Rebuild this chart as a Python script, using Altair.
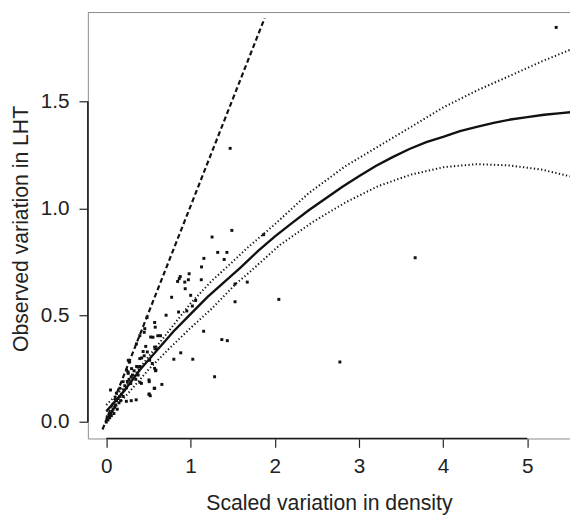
import altair as alt
import pandas as pd

# ---- data ----
pts_x = [5.343, 1.471, 3.668, 2.774, 2.049, 1.286, 1.868,
         1.256, 1.491, 1.323, 1.432, 1.400, 1.159, 1.131, 0.878, 0.866, 0.847, 0.984,
         0.975, 0.932, 1.128, 0.937, 1.529, 1.674, 0.776, 1.002, 1.061, 1.022, 0.956,
         0.858, 1.529,
         1.156, 1.372, 1.437, 1.027, 0.802, 0.884, 0.710, 0.574, 0.581, 0.484, 0.457,
         0.450, 0.527, 0.554, 0.612, 0.644, 0.398, 0.358, 0.468, 0.437, 0.487, 0.574,
         0.593, 0.398, 0.515, 0.546, 0.574, 0.261, 0.241,
         0.660, 0.507, 0.585, 0.507, 0.522, 0.417, 0.574, 0.378, 0.260, 0.300,
         0.277, 0.257, 0.375, 0.589, 0.510, 0.400, 0.296, 0.199, 0.050, 0.160, 0.120,
         0.569, 0.355, 0.296, 0.510, 0.238,
         0.000, 0.010, 0.020, 0.030, 0.040, 0.050, 0.060, 0.070, 0.080, 0.090, 0.100,
         0.110, 0.120, 0.130, 0.140, 0.150, 0.160, 0.170, 0.180, 0.200, 0.210, 0.220,
         0.240, 0.250, 0.270, 0.290, 0.310, 0.330, 0.350, 0.360, 0.400, 0.420, 0.450]
pts_y = [1.847, 1.281, 0.769, 0.281, 0.574, 0.212, 0.877,
         0.866, 0.897, 0.794, 0.794, 0.761, 0.766, 0.726, 0.681, 0.671, 0.658, 0.694,
         0.666, 0.655, 0.666, 0.624, 0.646, 0.655, 0.584, 0.593, 0.569, 0.543, 0.520,
         0.515, 0.563,
         0.425, 0.386, 0.381, 0.294, 0.294, 0.324, 0.500, 0.466, 0.444, 0.489, 0.437,
         0.420, 0.398, 0.397, 0.404, 0.404, 0.404, 0.366, 0.354, 0.330, 0.328, 0.351,
         0.343, 0.297, 0.289, 0.274, 0.251, 0.289, 0.243,
         0.176, 0.197, 0.240, 0.130, 0.123, 0.181, 0.158, 0.220, 0.228, 0.250,
         0.281, 0.235, 0.258, 0.243, 0.189, 0.186, 0.212, 0.189, 0.150, 0.158, 0.135,
         0.158, 0.104, 0.100, 0.131, 0.097,
         0.000, 0.020, 0.010, 0.030, 0.020, 0.040, 0.030, 0.050, 0.060, 0.040, 0.070,
         0.080, 0.100, 0.060, 0.110, 0.090, 0.120, 0.100, 0.130, 0.120, 0.150, 0.170,
         0.160, 0.190, 0.200, 0.180, 0.220, 0.240, 0.200, 0.260, 0.260, 0.300, 0.310]

fit_x = [0.0, 0.2, 0.4, 0.6, 0.8, 1.0, 1.2, 1.4, 1.6, 1.8, 2.0, 2.2, 2.4, 2.6, 2.8,
         3.0, 3.2, 3.4, 3.6, 3.8, 4.0, 4.2, 4.4, 4.6, 4.8, 5.0, 5.2, 5.4, 5.507]
fit_y = [0.050, 0.140, 0.245, 0.335, 0.425, 0.505, 0.585, 0.655, 0.725, 0.800, 0.868,
         0.930, 0.990, 1.045, 1.100, 1.150, 1.198, 1.240, 1.278, 1.310, 1.335, 1.362,
         1.381, 1.400, 1.416, 1.427, 1.438, 1.446, 1.450]

upper_x = [0.0, 0.25, 0.5, 0.75, 1.0, 1.25, 1.5, 1.666, 2.0, 2.4, 2.837, 3.227, 3.618,
           4.008, 4.398, 4.789, 5.179, 5.507]
upper_y = [0.080, 0.180, 0.305, 0.430, 0.555, 0.660, 0.750, 0.812, 0.925, 1.070, 1.197,
           1.289, 1.381, 1.474, 1.551, 1.620, 1.689, 1.742]

lower_x = [0.0, 0.25, 0.5, 0.75, 1.0, 1.25, 1.549, 1.666, 2.056, 2.447, 2.837, 3.227,
           3.618, 4.008, 4.398, 4.789, 5.179, 5.507]
lower_y = [0.025, 0.130, 0.245, 0.345, 0.440, 0.530, 0.651, 0.689, 0.827, 0.935, 1.027,
           1.104, 1.158, 1.193, 1.207, 1.201, 1.181, 1.150]

one_x = [-0.045, 1.880]
one_y = [-0.035, 1.890]

x_ticks = [0, 1, 2, 3, 4, 5]
y_ticks = [0.0, 0.5, 1.0, 1.5]
X_DOM = [-0.219, 5.507]
Y_DOM = [-0.077, 1.9165]

FONT = "Liberation Sans"

pts = pd.DataFrame({"x": pts_x, "y": pts_y})
fit = pd.DataFrame({"x": fit_x, "y": fit_y})
upp = pd.DataFrame({"x": upper_x, "y": upper_y})
low = pd.DataFrame({"x": lower_x, "y": lower_y})
one = pd.DataFrame({"x": one_x, "y": one_y})

xs = alt.Scale(domain=X_DOM, nice=False, zero=False)
ys = alt.Scale(domain=Y_DOM, nice=False, zero=False)

xax = alt.Axis(values=x_ticks, format="d", title="Scaled variation in density",
               grid=False, domainColor="#8a8a8a", domainWidth=1,
               tickColor="#222", tickSize=9, tickWidth=1.2,
               labelFont=FONT, labelFontSize=21, labelColor="#222", labelPadding=8,
               titleFont=FONT, titleFontSize=21.5, titleColor="#222",
               titleFontWeight="normal", titleY=72, titleBaseline="alphabetic")
yax = alt.Axis(values=y_ticks, format=".1f", title="Observed variation in LHT",
               grid=False, domainColor="#8a8a8a", domainWidth=1,
               tickColor="#222", tickSize=9, tickWidth=1.2,
               labelFont=FONT, labelFontSize=21, labelColor="#222", labelPadding=10,
               titleFont=FONT, titleFontSize=21.5, titleColor="#222",
               titleFontWeight="normal", titleX=-61, titleY=219,
               titleBaseline="alphabetic")

base_x = alt.X("x:Q", scale=xs, axis=xax)
base_y = alt.Y("y:Q", scale=ys, axis=yax)

points = alt.Chart(pts).mark_square(size=9, color="#111", opacity=1).encode(x=base_x, y=base_y)
fit_line = alt.Chart(fit).mark_line(color="#111", strokeWidth=2.4).encode(
    x=alt.X("x:Q", scale=xs), y=alt.Y("y:Q", scale=ys))
upp_line = alt.Chart(upp).mark_line(color="#111", strokeWidth=2, strokeDash=[1.3, 2.4]).encode(
    x=alt.X("x:Q", scale=xs), y=alt.Y("y:Q", scale=ys))
low_line = alt.Chart(low).mark_line(color="#111", strokeWidth=2, strokeDash=[1.3, 2.4]).encode(
    x=alt.X("x:Q", scale=xs), y=alt.Y("y:Q", scale=ys))
one_line = alt.Chart(one).mark_line(color="#111", strokeWidth=2.2, strokeDash=[5, 3]).encode(
    x=alt.X("x:Q", scale=xs), y=alt.Y("y:Q", scale=ys))

# frame: top edge (grey) and the dark axis segments spanning first to last tick
top_df = pd.DataFrame({"x": [X_DOM[0]], "x2": [X_DOM[1]], "y": [Y_DOM[1]]})
top_rule = alt.Chart(top_df).mark_rule(color="#8a8a8a", strokeWidth=1).encode(
    x=alt.X("x:Q", scale=xs), x2="x2:Q", y=alt.Y("y:Q", scale=ys))
xdark_df = pd.DataFrame({"x": [x_ticks[0]], "x2": [x_ticks[-1]], "y": [Y_DOM[0]]})
xdark = alt.Chart(xdark_df).mark_rule(color="#1a1a1a", strokeWidth=1.6).encode(
    x=alt.X("x:Q", scale=xs), x2="x2:Q", y=alt.Y("y:Q", scale=ys))
ydark_df = pd.DataFrame({"y": [y_ticks[0]], "y2": [y_ticks[-1]], "x": [X_DOM[0]]})
ydark = alt.Chart(ydark_df).mark_rule(color="#1a1a1a", strokeWidth=1.6).encode(
    y=alt.Y("y:Q", scale=ys), y2="y2:Q", x=alt.X("x:Q", scale=xs))

chart = alt.layer(points, one_line, upp_line, low_line, fit_line, top_rule, xdark, ydark).properties(
    width=489, height=432,
    autosize=alt.AutoSizeParams(type="none"),
    padding={"left": 81, "top": 1, "right": 0, "bottom": 76},
    background="white",
).configure_view(stroke=None)

chart.save("out.html", embed_options={"renderer": "svg", "actions": False})
